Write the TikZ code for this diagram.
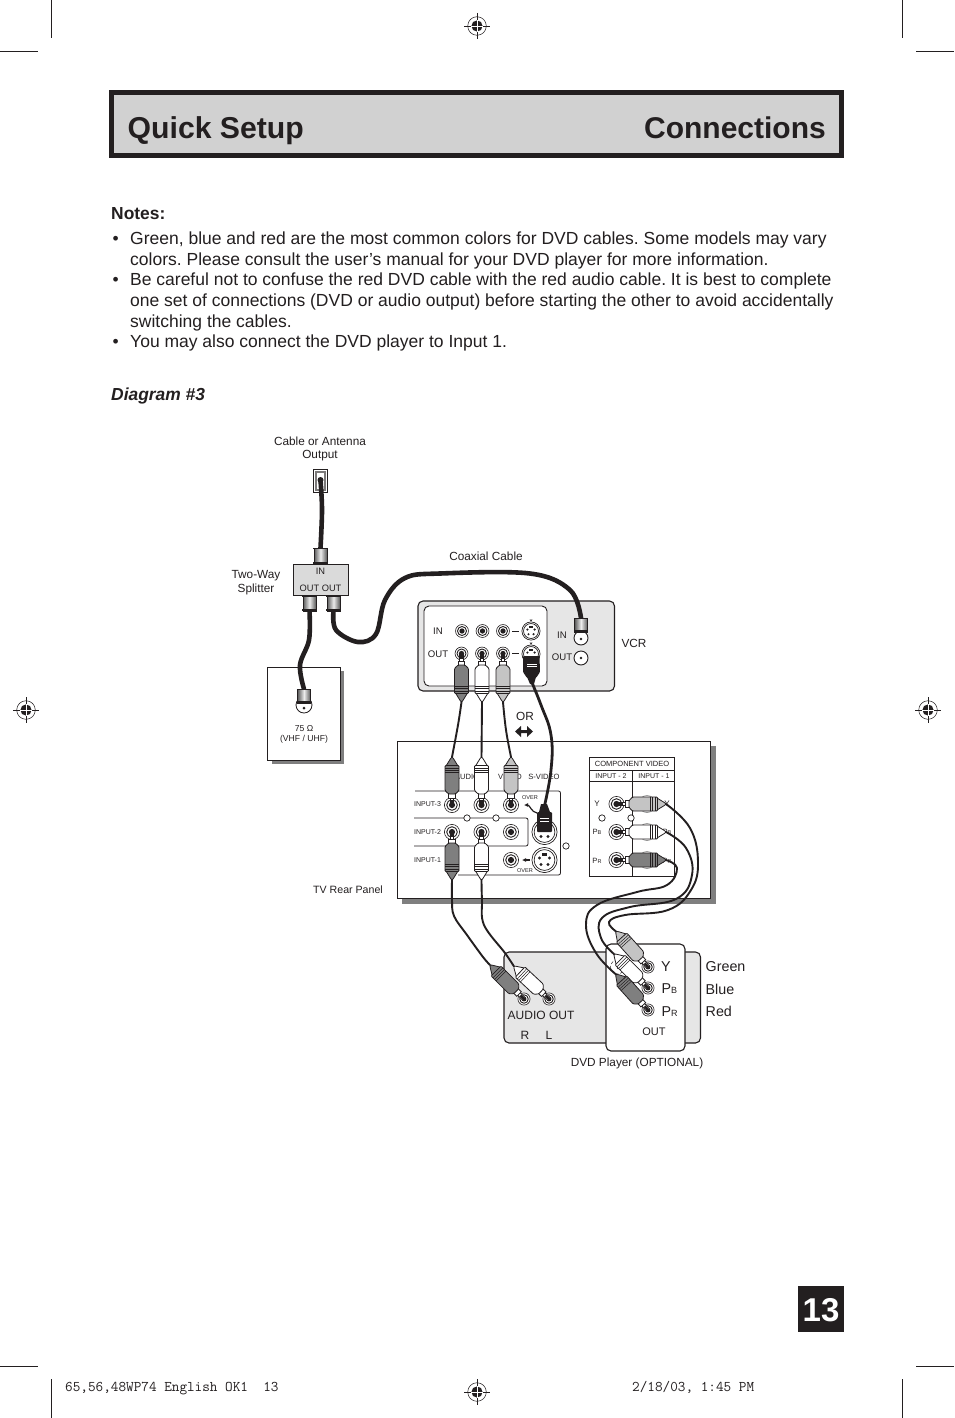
\documentclass[tikz,border=0pt]{standalone}
\usepackage{fontspec}
\setmainfont{Liberation Sans}
\usetikzlibrary{calc,arrows.meta}
\definecolor{ink}{HTML}{231F20}
\definecolor{hdr}{HTML}{D1D1D1}
\definecolor{panel}{HTML}{E6E6E6}
\definecolor{plugdark}{HTML}{7F7F7F}
\definecolor{pluglight}{HTML}{C4C4C4}
\newcommand{\fs}[1]{\fontsize{#1}{#1}\selectfont}
\tikzset{
 txt/.style={inner sep=0pt,text=ink,font=\fs{#1}},
 txt/.default=11.8,
 body/.style={inner sep=0pt,anchor=base west,text=ink,font=\fs{17.5}\frenchspacing},
 coax/.style={draw=ink,line width=4.6pt,line cap=round},
 thin cable/.style={draw=ink,line width=1.9pt,line cap=round},
 wire/.style={draw=ink,line width=0.8pt},
 rnd/.style={draw=ink,line width=1.1pt,rounded corners=5pt},
 crop/.style={draw=ink,line width=0.8pt}
}
% registration mark
\newcommand{\regmark}[3][]{%
 \begin{scope}[shift={(#2,#3)}]
  \draw[ink,line width=0.5pt] (0,0) circle (9.3);
  \fill[ink] (0,0) circle (5.6);
  \draw[ink,line width=0.7pt] (-13,0)--(13,0) (0,-13)--(0,13);
  \draw[white,line width=0.5pt] (-5.6,0)--(5.6,0) (0,-5.6)--(0,5.6);
 \end{scope}}
% rca plug: name x y visual-angle fill
\newcommand{\rcaplug}[5]{%
 \begin{scope}[shift={(#2,#3)},rotate=#4]
  \coordinate (#1) at (48,0);
  \draw[wire,fill=white] (0,-1.8) rectangle (8,1.8);
  \fill[ink] (0,-1.2) rectangle (5,1.2);
  \draw[wire,fill=white] (7,-3.2) rectangle (12,3.2);
  \draw[wire,fill=#5,line join=round] (39,-6) -- (46.5,-1.4) -- (48,0) -- (46.5,1.4) -- (39,6) -- cycle;
  \draw[wire,fill=#5,rounded corners=1pt] (11,-3.4) -- (14.5,-7) -- (39.5,-7) -- (39.5,7) -- (14.5,7) -- (11,3.4) -- cycle;
  \draw[ink,line width=0.5pt] (32.5,-7)--(32.5,7) (34.7,-7)--(34.7,7) (36.9,-7)--(36.9,7);
 \end{scope}}
% rca jack
\newcommand{\jackc}[3][1]{%
 \begin{scope}[shift={(#2,#3)},scale=#1]
  \draw[ink,line width=0.6pt,fill=white] (0,0) circle (7.6);
  \draw[ink,line width=0.9pt] (0,0) circle (5.3);
  \fill[ink] (0,0) circle (3.1);
 \end{scope}}
% s-video jack
\newcommand{\svid}[3][1]{%
 \begin{scope}[shift={(#2,#3)},scale=#1]
  \draw[ink,line width=0.7pt,fill=white] (0,0) circle (12.6);
  \draw[ink,line width=0.7pt] (0,0) circle (10.4);
  \fill[ink] (-5,-2) circle (1.7) (5,-2) circle (1.7) (-3.5,4.5) circle (1.7) (3.5,4.5) circle (1.7);
  \fill[ink] (-2.4,-6.8) rectangle (2.4,-4.2);
 \end{scope}}
% F connector, vertical
\newcommand{\fcon}[3]{%
 \shade[left color=gray!70!black,right color=gray!70!black,middle color=white!85!gray] (#1-6.5,#2) rectangle (#1+6.5,#3);
 \draw[ink,line width=0.5pt] (#1-6.5,#2) rectangle (#1+6.5,#3);
 \draw[ink,line width=1.2pt] (#1-7.2,#2+0.6)--(#1+7.2,#2+0.6) (#1-7.2,#3-1)--(#1+7.2,#3-1);}
\begin{document}
\begin{tikzpicture}[x=1pt,y=-1pt]
\useasboundingbox (0,0) rectangle (954,1418);
\fill[white] (0,0) rectangle (954,1418);
% crop marks
\draw[crop] (51,0)--(51,38) (0,51)--(38,51) (902,0)--(902,38) (916,51)--(954,51);
\draw[crop] (0,1366)--(38,1366) (916,1366)--(954,1366) (51,1379)--(51,1418) (902,1379)--(902,1418);
\regmark{477}{26}\regmark{26}{710}\regmark{928}{710}\regmark{477}{1392}
% header
\draw[draw=ink,line width=4.7pt,fill=hdr] (111.4,92.4) rectangle (841.6,155.4);
\node[anchor=base west,inner sep=0pt,text=ink,font=\fs{30.2}\bfseries] (title1) at (127.5,139) {Quick Setup};
\node[anchor=base east,inner sep=0pt,text=ink,font=\fs{30}\bfseries] (title2) at (826,139) {Connections};
% notes
\node[body,font=\fs{17.4}\bfseries] (notes) at (111,219) {Notes:};
\node[body] (b1) at (112.5,244) {•};
\node[body] (l1) at (130,244) {Green, blue and red are the most common colors for DVD cables. Some models may vary};
\node[body] (l2) at (130,265) {colors. Please consult the user’s manual for your DVD player for more information.};
\node[body] (b2) at (112.5,285) {•};
\node[body] (l3) at (130,285) {Be careful not to confuse the red DVD cable with the red audio cable. It is best to complete};
\node[body] (l4) at (130,306) {one set of connections (DVD or audio output) before starting the other to avoid accidentally};
\node[body] (l5) at (130,327) {switching the cables.};
\node[body] (b3) at (112.5,347) {•};
\node[body] (l6) at (130,347) {You may also connect the DVD player to Input 1.};
\node[body,font=\fs{17.4}\bfseries\itshape] (diag) at (111,400) {Diagram \#3};
% page number, footer
\fill[ink] (798,1286) rectangle (844,1332);
\node[inner sep=0pt,text=white,font=\fs{33}\bfseries] (pg) at (821,1310) {13};
\node[anchor=base west,inner sep=0pt,text=ink,font=\fs{14.8}\ttfamily] (f1) at (65,1391) {65,56,48WP74 English OK1\ \ 13};
\node[anchor=base west,inner sep=0pt,text=ink,font=\fs{14.8}\ttfamily] (f2) at (632,1391) {2/18/03, 1:45 PM};

% -------- labels
\node[txt] (lab1) at (320,441) {Cable or Antenna};
\node[txt] (lab2) at (320,455.5) {Output};
\node[txt] (lab3) at (256,575.5) {Two-Way};
\node[txt] (lab4) at (256,589.5) {Splitter};
\node[txt] (lab5) at (486,556) {Coaxial Cable};
\node[txt] (lab6) at (634,643) {VCR};
\node[txt] (lab7) at (525,716) {OR};
\node[txt=10.6] (lab8) at (348,890) {TV Rear Panel};
\node[txt] (lab9) at (637,1063.5) {DVD Player (OPTIONAL)};

% -------- wall outlet
\draw[ink,line width=1pt,fill=white] (313.5,469.5) rectangle (327.5,492.5);
\draw[ink!60,line width=1.6pt] (316,472) rectangle (325,490);
\fill[ink] (320.5,480) circle (3);
\coordinate (wall) at (320.5,480);

% -------- 75 ohm card
\fill[plugdark] (272,671) rectangle (344,764);
\draw[ink,line width=0.9pt,fill=white] (267.5,667.5) rectangle (340,760);
\draw[ink,line width=0.8pt,fill=white] (304,705) circle (8);
\fill[ink] (304,708) circle (1.5);
\node[txt=8.6] (ohm) at (304,729) {75 Ω};
\node[txt=8.6] (vhf) at (304,739) {(VHF / UHF)};
\coordinate (antin) at (304,689);

% -------- splitter
\draw[ink,line width=1.1pt,fill=hdr!80!white] (293.5,564.5) rectangle (348.5,595.5);
\node[txt=9.3] (spin) at (320.5,571) {IN};
\node[txt=9.3] (spout) at (320.5,588) {OUT OUT};
\coordinate (spl0) at (320.5,548);
\coordinate (spl1) at (309.5,611);
\coordinate (spl2) at (333.5,611);

% -------- VCR
\draw[rnd,fill=panel] (418,601) rectangle (614.5,691);
\draw[rnd,line width=0.9pt,fill=white] (424,606) rectangle (547,686);
\node[txt=9.6] (vin) at (438,631.5) {IN};
\node[txt=9.6] (vout) at (438,654.5) {OUT};
\node[txt=9.6] (vin2) at (562,635.5) {IN};
\node[txt=9.6] (vout2) at (562,657.5) {OUT};
\jackc[0.85]{462}{631}\jackc[0.85]{482.5}{631}\jackc[0.85]{503}{631}
\jackc[0.85]{461.5}{653.5}\jackc[0.85]{482}{653.5}\jackc[0.85]{503}{653.5}
\draw[ink,line width=0.9pt] (512,631)--(519,631) (512,653.5)--(519,653.5);
\svid[0.72]{531}{631}\svid[0.72]{531}{654}
\fill[ink] (529.5,619.5)--(532.5,619.5)--(531,621.5)--cycle (529.5,642.5)--(532.5,642.5)--(531,644.5)--cycle;
\draw[ink,line width=0.9pt,fill=white] (581,658) circle (7);
\fill[ink] (581,658) circle (1.4);
\draw[ink,line width=0.9pt,fill=white] (581,638) circle (7);
\fill[ink] (581,639) circle (1.4);

% -------- OR arrow
\fill[ink] (515,731.5)--(521,726)--(521,730)--(527,730)--(527,726)--(533,731.5)--(527,737)--(527,733)--(521,733)--(521,737)--cycle;

% -------- TV
\fill[plugdark] (402,746) rectangle (715.5,903.5);
\draw[ink,line width=0.9pt,fill=white] (397.5,741.5) rectangle (710,898);
\node[txt=7.6] (taudio) at (467,776.5) {AUDIO};
\node[txt=7.6] (tvideo) at (510,776.5) {VIDEO};
\node[txt=7.6] (tsvideo) at (544,776.5) {S-VIDEO};
\draw[ink,line width=0.8pt,rounded corners=2pt] (415,791)--(560.5,791)--(560.5,875)--(458,875);
\draw[ink,line width=0.8pt,rounded corners=2pt] (414,818)--(528,818)--(528,846)--(414,846);
\draw[ink,line width=0.7pt,fill=white] (467,818) circle (3.2) (496,818) circle (3.2) (566,846) circle (3.2);
\node[txt=7] (i3) at (427.5,804.5) {INPUT-3};
\node[txt=7] (i2) at (427.5,832) {INPUT-2};
\node[txt=7] (i1) at (427.5,860) {INPUT-1};
\jackc{452}{805}\jackc{481.5}{805}\jackc{511}{805}
\jackc{452}{832}\jackc{481.5}{832}\jackc{511}{832}
\jackc{511}{860}
\svid{544.5}{832}\svid{544.5}{860}
\node[txt=5.6] (ov1) at (530,797.5) {OVER};
\node[txt=5.6] (ov2) at (525,871) {OVER};
\draw[ink,line width=1.2pt,-{Latex[length=4pt,width=4pt]}] (537,813) to[out=170,in=0] (524,805);
\draw[ink,line width=1.2pt,-{Latex[length=4pt,width=4pt]}] (530,860)--(522,860);

% component panel
\draw[ink,line width=0.8pt,fill=white] (589.5,757.5) rectangle (674.5,876.5);
\draw[ink,line width=0.8pt] (589.5,770)--(674.5,770) (589.5,781.5)--(674.5,781.5) (632,770)--(632,876.5);
\node[txt=7.5] (cv) at (632,764) {COMPONENT VIDEO};
\node[txt=7] (ci2) at (611,776) {INPUT - 2};
\node[txt=7] (ci1) at (654,776) {INPUT - 1};
\node[txt=8] (cy) at (597,803.5) {Y};
\node[txt=7.6] (cpb) at (597,832) {P\fs{5.5}B};
\node[txt=7.6] (cpr) at (597,860.5) {P\fs{5.5}R};
\draw[ink,line width=0.7pt,fill=white] (602,818) circle (3.2) (631,818) circle (3.2);
\jackc{616.5}{804}\jackc{616.5}{832}\jackc{616.5}{860}
\draw[gray,line width=0.6pt] (647,804) circle (8.5) (647,832) circle (8.5) (647,860) circle (8.5);
\node[txt=8] (cy2) at (667,803.5) {Y};
\node[txt=7.6] (cpb2) at (667,832) {P\fs{5.5}B};
\node[txt=7.6] (cpr2) at (667,860.5) {P\fs{5.5}R};

% -------- DVD player
\draw[rnd,fill=panel] (504,952) rectangle (700.5,1043);
\draw[rnd,fill=white] (606,944) rectangle (685,1051);
\node[txt=12] (aout) at (541,1015) {AUDIO OUT};
\node[txt=12] (ar) at (525,1035.5) {R};
\node[txt=12] (al) at (549,1035.5) {L};
\node[txt=11] (oout) at (654,1032) {OUT};
\node[txt=14.3] (dy) at (666,966.5) {Y};
\node[txt=14.3,anchor=base west] (dpb) at (661.5,993.5) {P\fs{9}B};
\node[txt=14.3,anchor=base west] (dpr) at (661.5,1016) {P\fs{9}R};
\node[txt=14.3,anchor=base west] (cg) at (705.5,971) {Green};
\node[txt=14.3,anchor=base west] (cb) at (705.5,994) {Blue};
\node[txt=14.3,anchor=base west] (cr) at (705.5,1016) {Red};
\jackc[0.8]{524}{999}\jackc[0.8]{549}{999}
\jackc[0.8]{648}{967}\jackc[0.8]{648}{988}\jackc[0.8]{648}{1010}
\draw[ink,line width=0.5pt,densely dashed] (617.5,967) circle (7);
\fill[ink] (618,968) circle (1.2);

% -------- plugs (define cable end coordinates)
% VCR out
\rcaplug{va}{461.5}{654}{-90}{plugdark}
\rcaplug{vb}{482}{654}{-90}{white}
\rcaplug{vc}{503}{654}{-90}{pluglight}
% TV input 3
\rcaplug{ta}{452}{805}{90}{plugdark}
\rcaplug{tb}{481.5}{805}{90}{white}
\rcaplug{tc}{511}{805}{90}{pluglight}
% TV input 2
\rcaplug{ia}{452}{832}{-90}{plugdark}
\rcaplug{ib}{481.5}{832}{-90}{white}
% component
\rcaplug{cya}{618}{804}{0}{pluglight}
\rcaplug{cpba}{618}{832}{0}{white}
\rcaplug{cpra}{618}{860}{0}{plugdark}
% audio out
\rcaplug{arp}{524}{999}{135}{plugdark}
\rcaplug{alp}{549}{999}{137}{white}
% DVD video
\rcaplug{dya}{648}{967}{132}{pluglight}
\rcaplug{dpba}{648}{988}{135}{white}
\rcaplug{dpra}{648}{1010}{132}{plugdark}

% -------- cables
\draw[thin cable] plot[smooth,tension=0.7] coordinates {(va) (458,725) (ta)};
\draw[thin cable] (vb) -- (tb);
\draw[thin cable] plot[smooth,tension=0.7] coordinates {(vc) (506,730) (tc)};
\draw[thin cable] plot[smooth,tension=0.6] coordinates {(ia) (452,900) (454,916) (467,935) (483,957) (arp)};
\draw[thin cable] plot[smooth,tension=0.6] coordinates {(ib) (482,900) (484,925) (505,953) (alp)};
\draw[thin cable] plot[smooth,tension=0.7] coordinates {(cya) (690,828) (698,862) (691,890) (668,910) (625,915) (609,922) (dya)};
\draw[thin cable] plot[smooth,tension=0.7] coordinates {(cpba) (686,848) (692,875) (676,899) (630,907) (602,918) (601,938) (dpba)};
\draw[thin cable] plot[smooth,tension=0.7] coordinates {(cpra) (677,868) (667,885) (637,892) (597,905) (586,925) (596,953) (dpra)};

% -------- coax
\draw[coax] plot[smooth,tension=0.6] coordinates {(wall) (322,510) (spl0)};
\draw[coax] plot[smooth,tension=0.6] coordinates {(spl1) (309,640) (300,665) (antin)};
\draw[coax] plot[smooth,tension=0.6] coordinates {(spl2) (336,630) (358,642) (376,634) (385,600) (405,578) (440,573.5) (530,573.5) (570,590) (581,618)};
\fcon{320.5}{548}{564}
\fcon{309.5}{596}{611}
\fcon{333.5}{596}{611}
\fcon{304}{689}{703}
\fcon{581}{618}{632}

% -------- S-video plugs & cable
\draw[draw=ink,line width=2.8pt,line cap=round] plot[smooth,tension=0.7] coordinates {(530,678) (541,705) (551,735) (551,770) (544,808)};
\fill[ink,rounded corners=1pt] (523,656) -- (539.5,656) -- (540,672) -- (536,678) -- (527,678) -- (523,672) -- cycle;
\fill[ink] (527,677)--(536,677)--(534,684)--(530,684)--cycle;
\draw[white,line width=0.4pt] (527,664)--(537,664) (527,666)--(537,666);
\fill[ink,rounded corners=1pt] (537,812) rectangle (552,832);
\fill[ink] (539,812)--(541,804)--(547,804)--(550,812)--cycle;
\draw[white,line width=0.4pt] (540,818)--(549,818) (540,821)--(549,821);
\end{tikzpicture}
\end{document}
